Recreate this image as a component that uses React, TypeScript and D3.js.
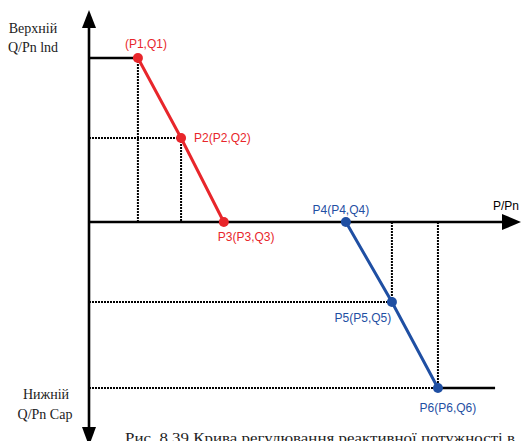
import React from "react";
import * as d3 from "d3";

// Data (P/Pn, Q/Pn)
const redP = [0.119, 0.224, 0.328];
const redQ = [0.5, 0.256, 0];
const redLabels = ["(P1,Q1)", "P2(P2,Q2)", "P3(P3,Q3)"];
const blueP = [0.625, 0.737, 0.849];
const blueQ = [0, -0.244, -0.506];
const blueLabels = ["P4(P4,Q4)", "P5(P5,Q5)", "P6(P6,Q6)"];
const upperLabel = ["Верхній", "Q/Pn lnd"];
const lowerLabel = ["Нижній", "Q/Pn Cap"];
const xAxisLabel = "P/Pn";
const caption = "Рис. 8.39 Крива регулювання реактивної потужності в";
const lowerEndP = 0.988;

const W = 522;
const H = 441;
const RED = "#e8262b";
const BLUE = "#1f4fa3";

export default function App() {
  const x = d3.scaleLinear().domain([0, 1]).range([89, 500]);
  const y = d3.scaleLinear().domain([0, 0.5]).range([222, 58]);
  const line = d3
    .line<[number, number]>()
    .x((d) => x(d[0]))
    .y((d) => y(d[1]));

  const redPts: [number, number][] = redP.map((p, i) => [p, redQ[i]]);
  const bluePts: [number, number][] = blueP.map((p, i) => [p, blueQ[i]]);

  const x0 = x(0);
  const y0 = y(0);
  const dot = { stroke: "#000", strokeWidth: 2, strokeDasharray: "2 1", fill: "none" };
  const labelFont = "'Liberation Sans', Arial, sans-serif";
  const serif = "'Liberation Serif', 'Times New Roman', serif";

  const redOff: [number, string, number, number][] = [
    [0, "middle", 8, -10],
    [1, "start", 13, 4],
    [2, "start", -6, 19],
  ];
  const blueOff: [number, string, number, number][] = [
    [0, "middle", -5, -8],
    [1, "middle", -29, 20],
    [2, "middle", 10, 24],
  ];

  return (
    <svg
      width={W}
      height={H}
      style={{ position: "absolute", left: 0, top: 0, background: "#fff" }}
    >
      <rect width={W} height={H} fill="#fff" />
      {/* dotted guides */}
      <line x1={x(redP[0])} x2={x(redP[0])} y1={y(redQ[0])} y2={y0} {...dot} />
      <line x1={x0} x2={x(redP[1])} y1={y(redQ[1])} y2={y(redQ[1])} {...dot} />
      <line x1={x(redP[1])} x2={x(redP[1])} y1={y(redQ[1])} y2={y0} {...dot} />
      <line x1={x(blueP[1])} x2={x(blueP[1])} y1={y0} y2={y(blueQ[1])} {...dot} />
      <line x1={x0} x2={x(blueP[1])} y1={y(blueQ[1])} y2={y(blueQ[1])} {...dot} />
      <line x1={x(blueP[2])} x2={x(blueP[2])} y1={y0} y2={y(blueQ[2])} {...dot} />
      <line x1={x0} x2={x(blueP[2])} y1={y(blueQ[2])} y2={y(blueQ[2])} {...dot} />

      {/* axes */}
      <line x1={x0} x2={x0} y1={24} y2={430} stroke="#000" strokeWidth={2.6} />
      <path d={`M${x0 - 7},28 L${x0},10 L${x0 + 7},28 Z`} fill="#000" />
      <path d={`M${x0 - 7},427 L${x0},446 L${x0 + 7},427 Z`} fill="#000" />
      <line x1={x0} x2={505} y1={y0} y2={y0} stroke="#000" strokeWidth={2.6} />
      <path d={`M502,${y0 - 8} L521,${y0} L502,${y0 + 8} Z`} fill="#000" />

      {/* flat limit segments */}
      <line x1={x0} x2={x(redP[0])} y1={y(redQ[0])} y2={y(redQ[0])} stroke="#000" strokeWidth={2.6} />
      <line x1={x(blueP[2])} x2={x(lowerEndP)} y1={y(blueQ[2])} y2={y(blueQ[2])} stroke="#000" strokeWidth={2.6} />

      {/* curves */}
      <path d={line(redPts) || ""} stroke={RED} strokeWidth={3} fill="none" />
      <path d={line(bluePts) || ""} stroke={BLUE} strokeWidth={3} fill="none" />
      {redPts.map((d, i) => (
        <circle key={"r" + i} cx={x(d[0])} cy={y(d[1])} r={5} fill={RED} />
      ))}
      {bluePts.map((d, i) => (
        <circle key={"b" + i} cx={x(d[0])} cy={y(d[1])} r={5} fill={BLUE} />
      ))}

      {/* point labels */}
      {redOff.map(([i, anchor, dx, dy]) => (
        <text
          key={"rl" + i}
          x={x(redPts[i][0]) + dx}
          y={y(redPts[i][1]) + dy}
          textAnchor={anchor as any}
          fontFamily={labelFont}
          fontSize={12}
          fill={RED}
        >
          {redLabels[i]}
        </text>
      ))}
      {blueOff.map(([i, anchor, dx, dy]) => (
        <text
          key={"bl" + i}
          x={x(bluePts[i][0]) + dx}
          y={y(bluePts[i][1]) + dy}
          textAnchor={anchor as any}
          fontFamily={labelFont}
          fontSize={12}
          fill={BLUE}
        >
          {blueLabels[i]}
        </text>
      ))}
      <text x={506} y={210} textAnchor="middle" fontFamily={labelFont} fontSize={12} fill="#000">
        {xAxisLabel}
      </text>

      {/* side labels */}
      <text x={33} y={33} textAnchor="middle" fontFamily={serif} fontSize={14} fill="#222">
        {upperLabel[0]}
      </text>
      <text x={33} y={52} textAnchor="middle" fontFamily={serif} fontSize={14} fill="#222">
        {upperLabel[1]}
      </text>
      <text x={46} y={399} textAnchor="middle" fontFamily={serif} fontSize={14} fill="#222">
        {lowerLabel[0]}
      </text>
      <text x={45} y={419} textAnchor="middle" fontFamily={serif} fontSize={14} fill="#222">
        {lowerLabel[1]}
      </text>

      {/* caption (clipped at the bottom edge, as in the reference) */}
      <text x={125} y={443} fontFamily={serif} fontSize={14} fill="#222" textLength={390} lengthAdjust="spacingAndGlyphs">
        {caption}
      </text>
    </svg>
  );
}
